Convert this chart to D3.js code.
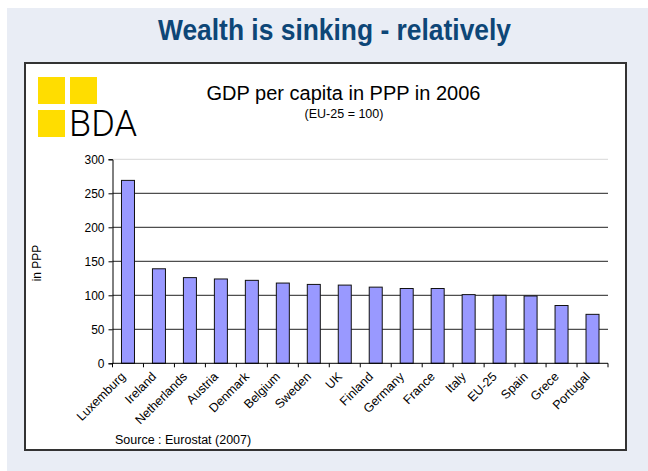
<!DOCTYPE html>
<html>
<head>
<meta charset="utf-8">
<script src="https://cdn.jsdelivr.net/npm/d3@7"></script>
<style>
  html, body { margin: 0; padding: 0; background: #fff; }
  svg { display: block; font-family: "Liberation Sans", Arial, sans-serif; }
</style>
</head>
<body>
<svg id="chart" width="648" height="471"></svg>
<script>
// data
const countries = ['Luxemburg', 'Ireland', 'Netherlands', 'Austria', 'Denmark', 'Belgium', 'Sweden', 'UK',
  'Finland', 'Germany', 'France', 'Italy', 'EU-25', 'Spain', 'Grece', 'Portugal'];
const gdpPPP = [269, 139, 126, 124, 122, 118, 116, 115, 112, 110, 110, 101, 100, 99, 85, 72];
const yTicks = [0, 50, 100, 150, 200, 250, 300];

const svg = d3.select('#chart');

// slide background + framed chart box
svg.append('rect').attr('x', 7).attr('y', 8).attr('width', 641).attr('height', 463).attr('fill', '#e9edf5');
svg.append('rect').attr('x', 25).attr('y', 63).attr('width', 601).attr('height', 387)
  .attr('fill', '#fff').attr('stroke', '#333').attr('stroke-width', 2);

/// slide headline is a condensed bold face, squeeze it to the measured width
svg.append('text')
  .attr('x', 334.5).attr('y', 40)
  .attr('text-anchor', 'middle')
  .attr('textLength', 353).attr('lengthAdjust', 'spacingAndGlyphs')
  .style('font-size', '30px').style('font-weight', 'bold')
  .attr('fill', '#0d4677')
  .text('Wealth is sinking - relatively');

/// BDA logo
const logo = svg.append('g');
[[38, 77], [70, 77], [38, 110]].forEach(p => {
  logo.append('rect').attr('x', p[0]).attr('y', p[1]).attr('width', 27).attr('height', 27).attr('fill', '#ffdd00');
});
logo.append('text').attr('x', 69).attr('y', 136)
  .attr('textLength', 68).attr('lengthAdjust', 'spacingAndGlyphs')
  .style('font-size', '37px').style('font-family', 'Roboto, "Liberation Sans", sans-serif').style('font-weight', 300)
  .attr('fill', '#000').text('BDA');

svg.append('text').attr('x', 343.5).attr('y', 100).attr('text-anchor', 'middle')
  .style('font-size', '20px').text('GDP per capita in PPP in 2006');
svg.append('text').attr('x', 344).attr('y', 118).attr('text-anchor', 'middle')
  .style('font-size', '12.5px').text('(EU-25 = 100)');

const margin = { left: 112.5, right: 608, top: 159.3, bottom: 363.3 };

const x = d3.scaleBand().domain(countries).range([margin.left, margin.right]).paddingInner(0.58).paddingOuter(0.29);
const y = d3.scaleLinear().domain([0, 300]).range([margin.bottom, margin.top]);

// gridlines
svg.append('g').selectAll('line').data(yTicks.filter(d => d > 0)).join('line')
  .attr('x1', margin.left).attr('x2', margin.right)
  .attr('y1', d => y(d)).attr('y2', d => y(d))
  .attr('stroke', d => d === 300 ? '#d8d8d8' : '#222').attr('stroke-width', 1);

// bars
svg.append('g').selectAll('rect').data(gdpPPP).join('rect')
  .attr('x', (d, i) => x(countries[i]))
  .attr('width', x.bandwidth())
  .attr('y', d => y(d))
  .attr('height', d => y(0) - y(d))
  .attr('fill', '#9999ff').attr('stroke', '#111').attr('stroke-width', 1);

/** Show Axis scale */
const yAxis = svg.append('g').attr('transform', `translate(${margin.left},0)`)
  .call(d3.axisLeft(y).tickValues(yTicks).tickSize(4).tickPadding(4));
yAxis.select('.domain').attr('stroke', '#000');
yAxis.selectAll('text').style('font-size', '12px').style('font-family', '"Liberation Sans", Arial, sans-serif').attr('fill', '#000');

const step = x.step();
const xAxis = svg.append('g').attr('transform', `translate(0,${margin.bottom})`);
xAxis.append('line').attr('x1', margin.left).attr('x2', margin.right).attr('stroke', '#000');
xAxis.selectAll('line.tk').data(d3.range(countries.length + 1)).join('line').attr('class', 'tk')
  .attr('x1', i => margin.left + i * step).attr('x2', i => margin.left + i * step)
  .attr('y1', 0).attr('y2', 4).attr('stroke', '#000');
xAxis.selectAll('text').data(countries).join('text')
  .attr('transform', d => `translate(${x(d) + x.bandwidth() / 2 - 5},11) rotate(-45)`)
  .attr('text-anchor', 'end').attr('dy', '0.35em')
  .style('font-size', '12.5px').attr('fill', '#000')
  .text(d => d);

svg.append('text').attr('transform', 'translate(41,263) rotate(-90)')
  .attr('text-anchor', 'middle').style('font-size', '12px').text('in PPP');

svg.append('text').attr('x', 115).attr('y', 444).style('font-size', '12.5px').text('Source : Eurostat (2007)');
</script>
</body>
</html>
